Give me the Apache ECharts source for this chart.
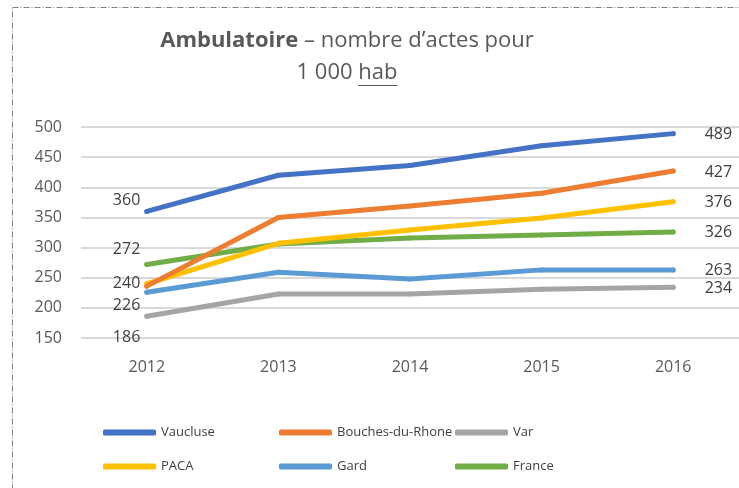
<!DOCTYPE html>
<html>
<head>
<meta charset="utf-8">
<script src="https://cdn.jsdelivr.net/npm/echarts@6/dist/echarts.min.js"></script>
<style>
  html, body { margin: 0; padding: 0; background: #fff; }
  #chart { width: 739px; height: 488px; }
</style>
</head>
<body>
<div id="chart"></div>
<script>
// valeurs
const years = ['2012', '2013', '2014', '2015', '2016'];
const yTicks = [150, 200, 250, 300, 350, 400, 450, 500];

const vaucluse = [360, 420, 436, 469, 489];
const bouches = [236, 350, 369, 390, 427];
const varDep = [186, 223, 223, 231, 234];
const paca = [240, 307, 329, 349, 376];
const gard = [226, 259, 248, 263, 263];
const france = [272, 306, 316, 321, 326];

const names = ['Vaucluse', 'Bouches-du-Rhone', 'Var', 'PACA', 'Gard', 'France'];
const colors = ['#4472C4', '#ED7D31', '#A5A5A5', '#FFC000', '#5B9BD5', '#70AD47'];
const values = [vaucluse, bouches, varDep, paca, gard, france];

// decalage vertical des etiquettes de gauche (comme dans Excel)
const leftOffsets = [-11, null, 21, 0, 13, -15];

const font = "'Open Sans', 'Noto Sans', sans-serif";
const titleSize = 22;

function buildData(vals, i) {
  return vals.map((v, k) => {
    if (k === 0) {
      if (leftOffsets[i] === null) return v;
      return { value: v, label: { show: true, position: 'left', distance: 4, offset: [0, leftOffsets[i]] } };
    }
    if (k === vals.length - 1) {
      return { value: v, label: { show: true, position: 'right', distance: 29, offset: [0, 1] } };
    }
    return v;
  });
}

const series = names.map((n, i) => ({
  name: n,
  type: 'line',
  data: buildData(values[i], i),
  symbol: 'circle',
  symbolSize: 5,
  showSymbol: true,
  color: colors[i],
  itemStyle: { color: colors[i], borderWidth: 0 },
  lineStyle: { width: 5, cap: 'round', join: 'round' },
  label: { show: false, color: '#404040', fontSize: 16, fontFamily: font },
  z: 10 - i
}));

// soulignement de "hab"
const ctx = document.createElement('canvas').getContext('2d');
ctx.font = titleSize + 'px ' + font;
const line2 = '1 000 hab';
const w2 = ctx.measureText(line2).width;
const wHab = ctx.measureText('hab').width;
const titleX = 347;
const ulEnd = titleX + w2 / 2;
const ulStart = ulEnd - wHab;

// une légende par entrée : 3 colonnes, 2 lignes
const legends = names.map((n, i) => ({
  data: [n],
  left: 103 + (i % 3) * 176,
  top: 426 + Math.floor(i / 3) * 34,
  padding: 0,
  itemWidth: 53, itemHeight: 6, itemGap: 5,
  icon: 'roundRect',
  textStyle: { fontSize: 13, color: '#404040' }
}));

const chart = echarts.init(document.getElementById('chart'));
chart.setOption({
  animation: false,
  textStyle: { fontFamily: font },
  graphic: [
    {
      type: 'rect',
      shape: { x: 12.5, y: 7.5, width: 900, height: 700 },
      style: { fill: 'none', stroke: '#7f7f7f', lineWidth: 1, lineDash: [6, 2, 1, 2] },
      silent: true
    },
    {
      type: 'text',
      x: titleX, y: 25,
      style: {
        text: '{b|Ambulatoire} – nombre d’actes pour\n' + line2,
        align: 'center',
        fill: '#595959',
        font: titleSize + 'px ' + font,
        lineHeight: 32,
        rich: { b: { fontWeight: 'bold', fontSize: titleSize, fontFamily: font, fill: '#595959', lineHeight: 32 } }
      }
    },
    {
      type: 'line',
      shape: { x1: ulStart, y1: 85.5, x2: ulEnd, y2: 85.5 },
      style: { stroke: '#595959', lineWidth: 1 }
    }
  ],
  grid: { left: 81, right: -11, top: 127, bottom: 150, containLabel: false },
  legend: legends,
  xAxis: {
    type: 'category',
    data: years,
    boundaryGap: true,
    axisLine: { show: false },
    axisTick: { show: false },
    axisLabel: { color: '#595959', fontSize: 16, margin: 21 }
  },
  yAxis: {
    type: 'value',
    min: yTicks[0],
    max: yTicks[yTicks.length - 1],
    interval: 50,
    axisLine: { show: false },
    axisTick: { show: false },
    axisLabel: { color: '#595959', fontSize: 16, margin: 19 },
    splitLine: { lineStyle: { color: '#d9d9d9', width: 2 } }
  },
  series: series
});
</script>
</body>
</html>
